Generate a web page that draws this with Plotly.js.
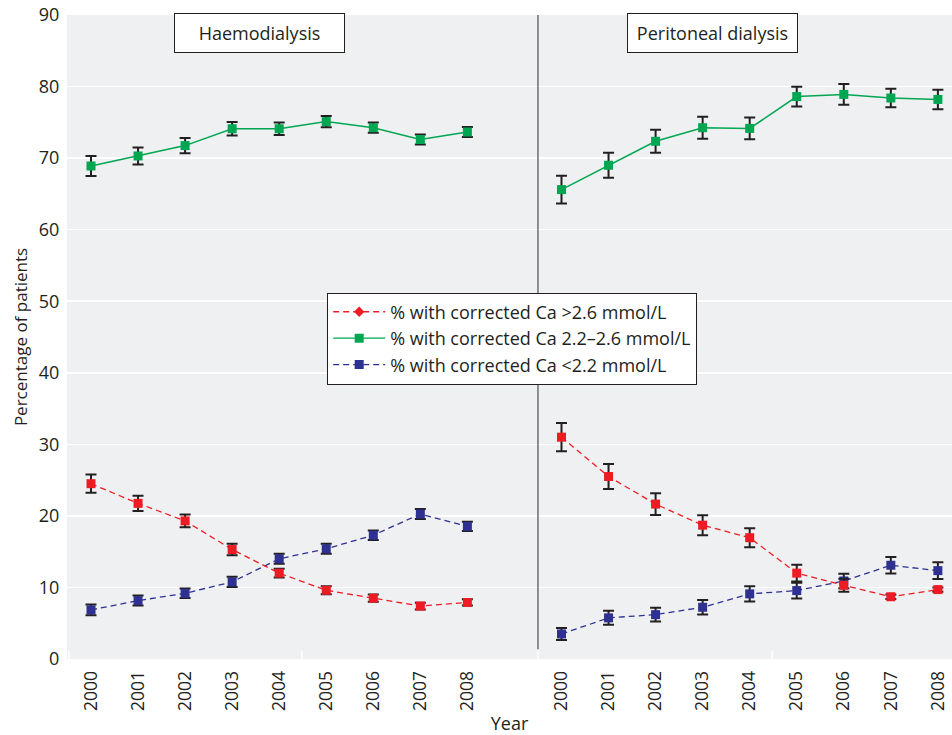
<!DOCTYPE html>
<html><head><meta charset="utf-8">
<script src="https://cdn.plot.ly/plotly-3.0.1.min.js"></script>
<style>html,body{margin:0;padding:0;background:#fff}#chart{width:952px;height:735px}</style>
</head><body><div id="chart"></div>
<script>
// ---- data ----
const years = ['2000','2001','2002','2003','2004','2005','2006','2007','2008'];
const panels = ['Haemodialysis','Peritoneal dialysis'];
const seriesNames = ['% with corrected Ca >2.6 mmol/L','% with corrected Ca 2.2\u20132.6 mmol/L','% with corrected Ca <2.2 mmol/L'];

// Haemodialysis
const hdHigh    = [24.5, 21.75, 19.3, 15.3, 12.0, 9.6, 8.5, 7.4, 7.9];
const hdHighErr = [1.28, 1.05, 0.88, 0.79, 0.6, 0.56, 0.5, 0.47, 0.44];
const hdMid     = [68.9, 70.3, 71.75, 74.1, 74.1, 75.1, 74.25, 72.6, 73.65];
const hdMidErr  = [1.4, 1.2, 1.07, 0.95, 0.86, 0.79, 0.72, 0.7, 0.7];
const hdLow     = [6.86, 8.16, 9.18, 10.77, 14.0, 15.4, 17.3, 20.26, 18.53];
const hdLowErr  = [0.74, 0.7, 0.67, 0.72, 0.7, 0.7, 0.67, 0.7, 0.65];

// Peritoneal dialysis
const pdHigh    = [31.0, 25.5, 21.65, 18.7, 16.95, 12.0, 10.3, 8.7, 9.7];
const pdHighErr = [1.98, 1.74, 1.53, 1.4, 1.33, 1.18, 0.9, 0.3, 0.3];
const pdMid     = [65.6, 69.0, 72.35, 74.25, 74.15, 78.6, 78.9, 78.4, 78.2];
const pdMidErr  = [1.95, 1.74, 1.6, 1.53, 1.53, 1.37, 1.44, 1.3, 1.37];
const pdLow     = [3.5, 5.75, 6.2, 7.23, 9.1, 9.56, 10.9, 13.1, 12.35];
const pdLowErr  = [0.84, 0.98, 0.95, 1.0, 1.05, 1.1, 1.0, 1.16, 1.16];

// ---- build ----
const idxHD = years.map((_, i) => i);
const idxPD = years.map((_, i) => i + 10);
const xAll = idxHD.concat([9], idxPD);
const join = (a, b) => a.concat([null], b);

const colors = ['#ed1c24', '#00a651', '#2e3192'];
const ys = [join(hdHigh, pdHigh), join(hdMid, pdMid), join(hdLow, pdLow)];
const es = [join(hdHighErr, pdHighErr), join(hdMidErr, pdMidErr), join(hdLowErr, pdLowErr)];

const traces = [];
// draw order: blue, red, green
[2, 0, 1].forEach(k => {
  traces.push({
    type: 'scatter', mode: 'lines+markers', x: xAll, y: ys[k],
    connectgaps: false, showlegend: false, name: seriesNames[k],
    line: {color: colors[k], width: k === 1 ? 1.5 : 1.3, dash: k === 1 ? 'solid' : '6px,4px'},
    marker: {symbol: 'square', size: 9, color: colors[k]},
    error_y: {type: 'data', array: es[k], visible: true, color: '#231f20', thickness: 2, width: 5.5}
  });
});
// legend entries
[0, 1, 2].forEach(k => {
  traces.push({
    type: 'scatter', mode: 'lines+markers', x: [null], y: [null], name: seriesNames[k],
    showlegend: true,
    line: {color: colors[k], width: 1.3, dash: k === 1 ? 'solid' : '6px,4px'},
    marker: {symbol: k === 0 ? 'diamond' : 'square', size: k === 0 ? 8 : 9, color: colors[k]}
  });
});

const tickvals = xAll.filter(v => v !== 9);
const ticktext = years.concat(years);

const fontFam = '"Open Sans", "Noto Sans", sans-serif';

const shapes = [
  {type: 'line', xref: 'x', yref: 'paper', x0: 9.5, x1: 9.5, y0: 0.015, y1: 1, line: {color: '#6d6e71', width: 1.5}, layer: 'above'}
];
[-0.47, 4.48, 9.5, 14.48].forEach(v => {
  shapes.push({type: 'line', xref: 'x', yref: 'paper', x0: v, x1: v, y0: 0, y1: 0.013, line: {color: '#ffffff', width: 1.5}, layer: 'above'});
});

const layout = {
  width: 952, height: 735,
  margin: {l: 67, r: 0, t: 14.5, b: 75.5},
  paper_bgcolor: '#ffffff', plot_bgcolor: '#eff0f2',
  font: {family: fontFam, color: '#231f20', size: 17},
  showlegend: true,
  legend: {
    x: 0.294, y: 0.569, xanchor: 'left', yanchor: 'top',
    bgcolor: '#ffffff', bordercolor: '#231f20', borderwidth: 1,
    font: {family: fontFam, size: 18, color: '#231f20'},
    itemwidth: 52, tracegroupgap: 0
  },
  xaxis: {
    range: [-0.51, 18.3], tickmode: 'array', tickvals: tickvals, ticktext: ticktext,
    tickangle: -90, showgrid: false, zeroline: false, showline: false,
    ticks: 'outside', ticklen: 4, tickcolor: 'rgba(0,0,0,0)',
    tickfont: {size: 17.5, color: '#231f20'},
    title: {text: 'Year', font: {size: 18, color: '#231f20'}, standoff: 8}
  },
  yaxis: {
    range: [0, 90], tickvals: [0,10,20,30,40,50,60,70,80,90],
    showgrid: true, gridcolor: '#ffffff', gridwidth: 1.6, zeroline: false, showline: false,
    ticks: 'outside', ticklen: 3, tickcolor: 'rgba(0,0,0,0)',
    tickfont: {size: 18, color: '#231f20'},
    title: {text: 'Percentage of patients', font: {size: 17, color: '#231f20'}, standoff: 6}
  },
  shapes: shapes,
  annotations: [
    {xref: 'x', yref: 'paper', x: 3.58, y: 0.9715, text: panels[0], showarrow: false,
     bordercolor: '#231f20', borderwidth: 1, bgcolor: '#ffffff', borderpad: 7,
     font: {size: 18, color: '#231f20'}, width: 155, height: 24, xanchor: 'center', yanchor: 'middle'},
    {xref: 'x', yref: 'paper', x: 13.22, y: 0.9715, text: panels[1], showarrow: false,
     bordercolor: '#231f20', borderwidth: 1, bgcolor: '#ffffff', borderpad: 7,
     font: {size: 18, color: '#231f20'}, width: 155, height: 24, xanchor: 'center', yanchor: 'middle'}
  ]
};

Plotly.newPlot('chart', traces, layout, {displayModeBar: false, staticPlot: true});
</script>
</body></html>
